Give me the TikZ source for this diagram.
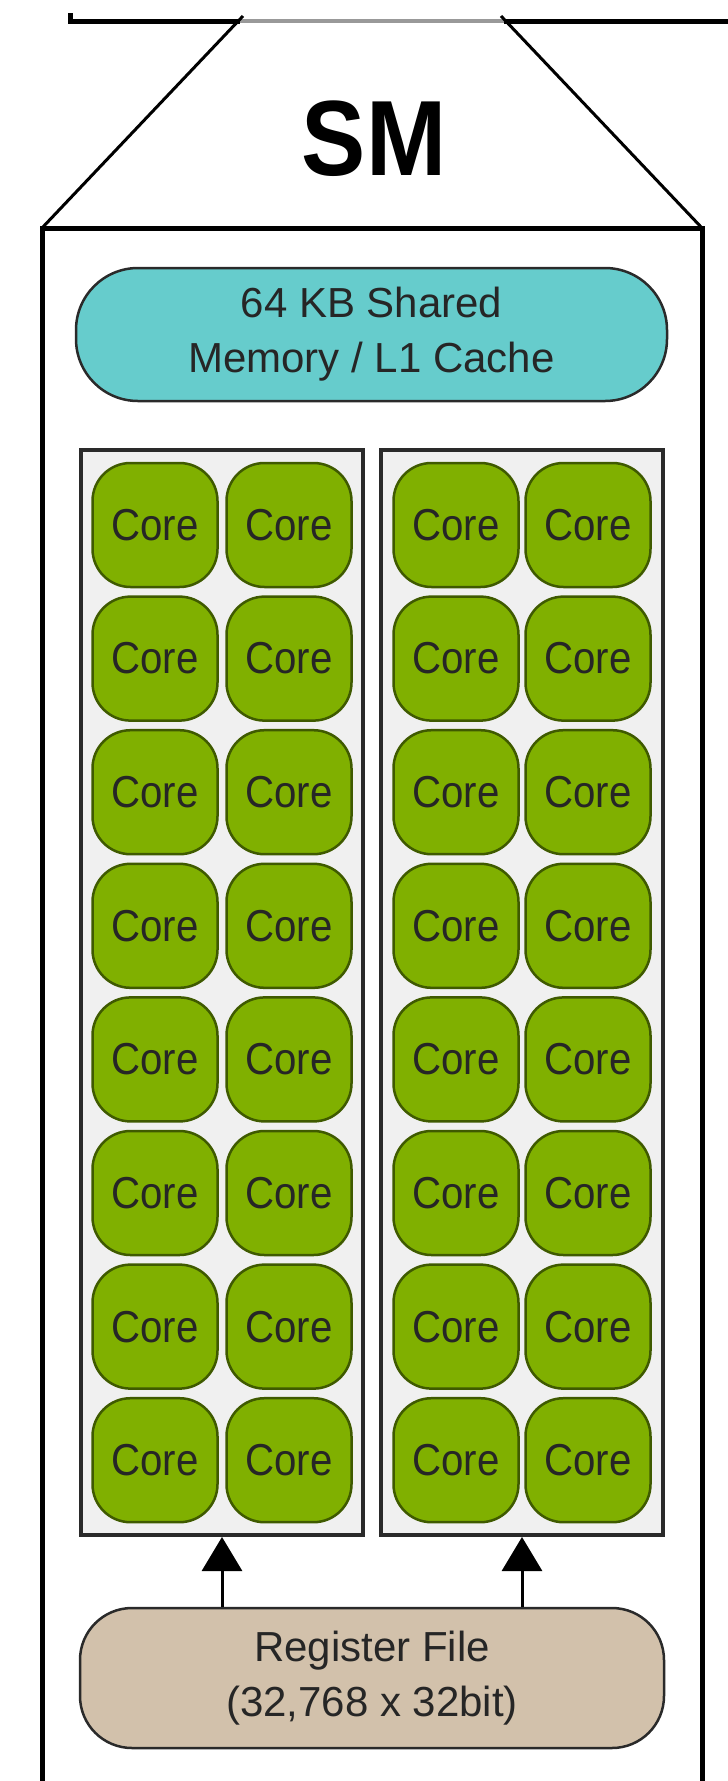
\documentclass[tikz,border=0pt]{standalone}
\usepackage{fontspec}
\setmainfont{Liberation Sans}[FakeStretch=0.9]
\newfontfamily\blocksans{Liberation Sans}
\usetikzlibrary{arrows.meta}
\definecolor{coregreen}{HTML}{80B000}
\definecolor{coreedge}{HTML}{3F5A00}
\definecolor{cacheteal}{HTML}{66CCCC}
\definecolor{regtan}{HTML}{D2C1AB}
\definecolor{lanegray}{HTML}{F0F0F0}
\definecolor{inkgray}{HTML}{2A2A2A}

\begin{document}
\begin{tikzpicture}[x=1pt,y=-1pt,
	smline/.style={line width=5pt, black},
	smedge/.style={line width=3pt, black},
	core/.style={draw=coreedge, line width=2.5pt, fill=coregreen, rounded corners=38pt,
		minimum width=125pt, minimum height=124pt, inner sep=0pt, text=black!85,
		font=\fontsize{44.7pt}{50pt}\selectfont},
	lane/.style={draw=inkgray, line width=4pt, fill=lanegray,
		minimum width=282pt, minimum height=1085pt, inner sep=0pt},
	memblock/.style={draw=inkgray, line width=2.5pt, rounded corners=62pt, align=center,
		inner sep=0pt, text=black!85, font=\blocksans\fontsize{42pt}{55pt}\selectfont},
	feed/.style={line width=3pt, -{Triangle[width=40pt,length=34pt]}}]
	\useasboundingbox (0,0) rectangle (728,1781);
	\newcommand{\corepitch}{133.6}
	\draw[smline] (70,13) -- (70,21) -- (240,21);
	\draw[line width=4pt, black!40] (240,21) -- (504,21);
	\draw[smline] (504,21) -- (728,21);
	\draw[smedge] (243,16) -- (42,228);
	\draw[smedge] (501,16) -- (702,228);
	\draw[smline] (42,1781) -- (42,228) -- (702,228) -- (702,1781);
	\node[font=\fontsize{107pt}{110pt}\selectfont\bfseries] (smlabel) at (374,139) {SM};
	\node[memblock, fill=cacheteal, minimum width=591pt, minimum height=133pt]
		(shmem) at (371.5,334.5) {64 KB Shared\\Memory / L1 Cache};
	\node[lane] (laneL) at (222,992.5) {};
	\node[lane] (laneR) at (522,992.5) {};
	\foreach \colx [count=\c] in {155,289,456,588}
	{
		\foreach \r in {0,...,7}
		{
			\node[core] (core-\c-\r) at (\colx,{525+\corepitch*\r}) {Core};
		}
	}
	\node[memblock, fill=regtan, rounded corners=52pt, minimum width=584pt, minimum height=140pt]
		(regfile) at (372,1678) {Register File\\(32,768 x 32bit)};
	\draw[feed] (regfile.north -| laneL.south) -- (laneL.south);
	\draw[feed] (regfile.north -| laneR.south) -- (laneR.south);
\end{tikzpicture}
\end{document}
